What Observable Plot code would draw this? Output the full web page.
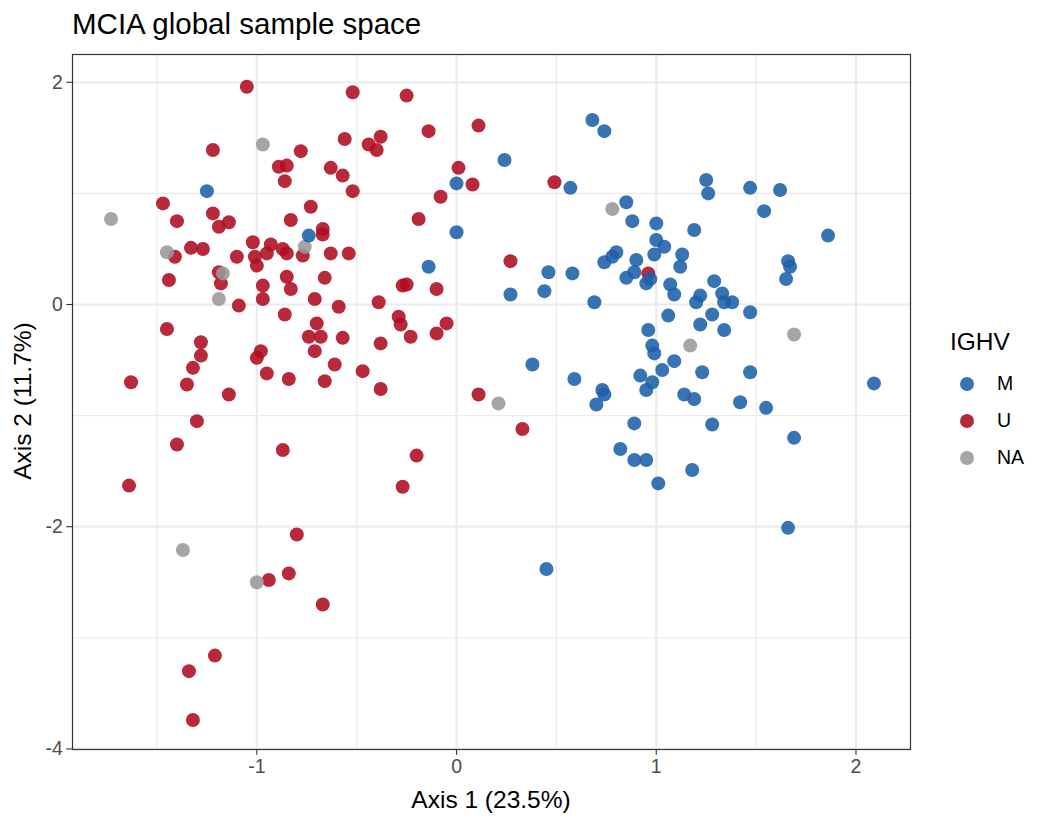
<!DOCTYPE html>
<html><head><meta charset="utf-8">
<script src="https://cdn.jsdelivr.net/npm/d3@7"></script>
<script src="https://cdn.jsdelivr.net/npm/@observablehq/plot@0.6"></script>
<style>
body{margin:0;background:#fff;font-family:"Liberation Sans",Arial,Helvetica,sans-serif;}
#wrap{position:relative;width:1050px;height:825px;overflow:hidden;}
.lbl{position:absolute;white-space:nowrap;line-height:1;color:#000;}
#legend{position:absolute;left:950px;top:326px;}
.item{position:absolute;left:0;white-space:nowrap;height:20px;}
</style></head><body>
<div id="wrap">
  <div id="chart"></div>
  <div class="lbl" id="title" style="left:72px;top:9px;font-size:29.5px;">MCIA global sample space</div>
  <div class="lbl" id="xtitle" style="left:491px;top:800px;font-size:24.5px;transform:translate(-50%,-50%);">Axis 1 (23.5%)</div>
  <div class="lbl" id="ytitle" style="left:23px;top:401px;font-size:24.5px;transform:translate(-50%,-50%) rotate(-90deg);">Axis 2 (11.7%)</div>
  <div id="legend"></div>
</div>
<script>
// groups (IGHV status) and their colours
const groups = ["M", "U", "NA"];
const groupColors = ["#1C60AA", "#AF0B21", "#999999"];
const legendTitle = "IGHV";

// axis ticks
const xTicks = [-1, 0, 1, 2];
const xMinor = [-1.5, -0.5, 0.5, 1.5];
const yTicks = [-4, -2, 0, 2];
const yMinor = [-3, -1, 1];

// sample coordinates [Axis 1, Axis 2]
const ptsU = [
  [-1.05,1.96],[-1.22,1.39],[-1.47,0.91],[-1.40,0.75],[-1.22,0.82],[-1.14,0.74],[-1.19,0.70],[-1.02,0.56],
  [-0.93,0.54],[-1.41,0.43],[-1.33,0.51],[-1.27,0.50],[-1.10,0.43],[-1.01,0.43],[-1.00,0.35],[-0.95,0.46],
  [-1.44,0.22],[-1.19,0.29],[-1.18,0.19],[-0.97,0.17],[-1.09,-0.01],[-0.97,0.05],[-1.45,-0.22],[-1.28,-0.34],
  [-1.28,-0.46],[-1.32,-0.57],[-0.98,-0.42],[-1.00,-0.48],[-0.95,-0.62],[-1.63,-0.70],[-1.35,-0.72],[-1.14,-0.81],
  [-1.30,-1.05],[-1.40,-1.26],[-1.64,-1.63],[-0.27,-1.64],[-0.80,-2.07],[-0.84,-2.42],[-0.94,-2.48],[-0.67,-2.70],
  [-1.21,-3.16],[-1.34,-3.30],[-1.32,-3.74],[-0.52,1.91],[-0.25,1.88],[-0.14,1.56],[-0.56,1.49],[-0.44,1.44],
  [-0.38,1.51],[-0.40,1.39],[-0.78,1.38],[-0.89,1.24],[-0.85,1.25],[-0.86,1.11],[-0.63,1.23],[-0.57,1.16],
  [-0.52,1.02],[0.01,1.23],[-0.08,0.97],[-0.73,0.88],[-0.83,0.76],[-0.19,0.77],[-0.67,0.68],[-0.67,0.63],
  [-0.87,0.50],[-0.85,0.46],[-0.77,0.44],[-0.63,0.46],[-0.54,0.46],[-0.85,0.25],[-0.66,0.24],[-0.83,0.14],
  [-0.27,0.17],[-0.25,0.18],[-0.10,0.14],[-0.71,0.05],[-0.59,-0.02],[-0.39,0.02],[-0.86,-0.09],[-0.70,-0.17],
  [-0.74,-0.29],[-0.68,-0.29],[-0.57,-0.30],[-0.71,-0.42],[-0.29,-0.11],[-0.28,-0.18],[-0.23,-0.29],[-0.38,-0.35],
  [-0.10,-0.26],[-0.05,-0.17],[-0.84,-0.67],[-0.66,-0.69],[-0.61,-0.54],[-0.47,-0.60],[-0.38,-0.76],[-0.87,-1.31],
  [-0.20,-1.36],[0.11,1.61],[0.08,1.08],[0.49,1.10],[0.27,0.39],[0.96,0.28],[0.11,-0.81],[0.33,-1.12]
];
const ptsNA = [
  [-0.97,1.44],[-1.73,0.77],[-1.45,0.47],[-1.17,0.28],[-1.19,0.05],[-0.76,0.52],[-1.37,-2.21],[-1.00,-2.50],
  [0.78,0.86],[1.17,-0.37],[1.69,-0.27],[0.21,-0.89]
];
const ptsM = [
  [-1.25,1.02],[0.00,1.09],[-0.74,0.62],[0.00,0.65],[-0.14,0.34],[0.68,1.66],[0.74,1.56],[0.24,1.30],
  [0.57,1.05],[0.85,0.92],[0.88,0.75],[1.00,0.73],[1.00,0.58],[1.04,0.52],[0.99,0.45],[1.13,0.45],
  [0.80,0.47],[0.78,0.43],[0.74,0.38],[0.90,0.40],[0.46,0.29],[0.58,0.28],[0.89,0.29],[0.85,0.24],
  [0.97,0.23],[0.95,0.19],[1.07,0.18],[1.12,0.34],[1.09,0.09],[0.27,0.09],[0.44,0.12],[0.69,0.02],
  [1.25,1.12],[1.26,1.00],[1.47,1.05],[1.62,1.03],[1.54,0.84],[1.19,0.67],[1.86,0.62],[1.66,0.39],
  [1.67,0.34],[1.65,0.23],[1.29,0.21],[1.22,0.08],[1.33,0.10],[1.20,0.02],[1.34,0.02],[1.38,0.02],
  [1.47,-0.07],[1.06,-0.10],[1.28,-0.09],[1.22,-0.18],[1.34,-0.23],[1.09,-0.51],[1.23,-0.61],[1.47,-0.61],
  [2.09,-0.71],[1.14,-0.81],[1.19,-0.85],[1.42,-0.88],[1.55,-0.93],[1.28,-1.08],[1.69,-1.20],[1.18,-1.49],
  [0.96,-0.23],[0.98,-0.37],[0.99,-0.44],[1.03,-0.59],[0.92,-0.64],[0.98,-0.70],[0.95,-0.77],[0.38,-0.54],
  [0.59,-0.67],[0.73,-0.77],[0.74,-0.81],[0.70,-0.90],[0.89,-1.07],[0.82,-1.30],[0.89,-1.40],[0.95,-1.40],
  [1.01,-1.61],[0.45,-2.38],[1.66,-2.01]
];

const data = [
  ...ptsU.map(([x, y]) => ({x, y, g: "U"})),
  ...ptsNA.map(([x, y]) => ({x, y, g: "NA"})),
  ...ptsM.map(([x, y]) => ({x, y, g: "M"}))
];

const gridColor = "#EBEBEB";
const chart = Plot.plot({
  width: 1050, height: 825,
  marginTop: 54, marginRight: 140, marginBottom: 76, marginLeft: 72,
  style: {fontFamily: '"Liberation Sans", Arial, sans-serif', background: "white", overflow: "visible"},
  x: {domain: [-1.923, 2.273]},
  y: {domain: [-4.005, 2.25]},
  color: {domain: groups, range: groupColors},
  marks: [
    Plot.ruleX(xMinor, {stroke: gridColor, strokeWidth: 1.1}),
    Plot.ruleY(yMinor, {stroke: gridColor, strokeWidth: 1.1}),
    Plot.ruleX(xTicks, {stroke: gridColor, strokeWidth: 2.2}),
    Plot.ruleY(yTicks, {stroke: gridColor, strokeWidth: 2.2}),
    Plot.dot(data, {x: "x", y: "y", fill: "g", r: 7, fillOpacity: 0.88}),
    Plot.frame({stroke: "#333333", strokeWidth: 1.2}),
    Plot.axisX(xTicks, {tickSize: 5.7, tickPadding: 4, fontSize: 19.5, fill: "#4D4D4D", stroke: "#333333", strokeWidth: 1.1, label: null, tickFormat: d => String(d)}),
    Plot.axisY(yTicks, {tickSize: 5.7, tickPadding: 4, fontSize: 19.5, fill: "#4D4D4D", stroke: "#333333", strokeWidth: 1.1, label: null, tickFormat: d => String(d)})
  ]
});
document.getElementById("chart").appendChild(chart);

// legend
const legend = document.getElementById("legend");
const lt = document.createElement("div");
lt.className = "lbl";
lt.style.cssText = "left:0;top:4px;font-size:24.5px;";
lt.textContent = legendTitle;
legend.appendChild(lt);
groups.forEach((g, i) => {
  const it = document.createElement("div");
  it.className = "item";
  it.style.top = (48 + i * 37) + "px";
  it.innerHTML = `<svg width="34" height="20" style="position:absolute;left:0;top:0"><circle cx="17" cy="10" r="7" fill="${groupColors[i]}" fill-opacity="0.88"/></svg>` +
    `<span class="lbl" style="left:47px;top:10px;font-size:19.5px;transform:translateY(-50%)">${g}</span>`;
  legend.appendChild(it);
});
</script>
</body></html>
